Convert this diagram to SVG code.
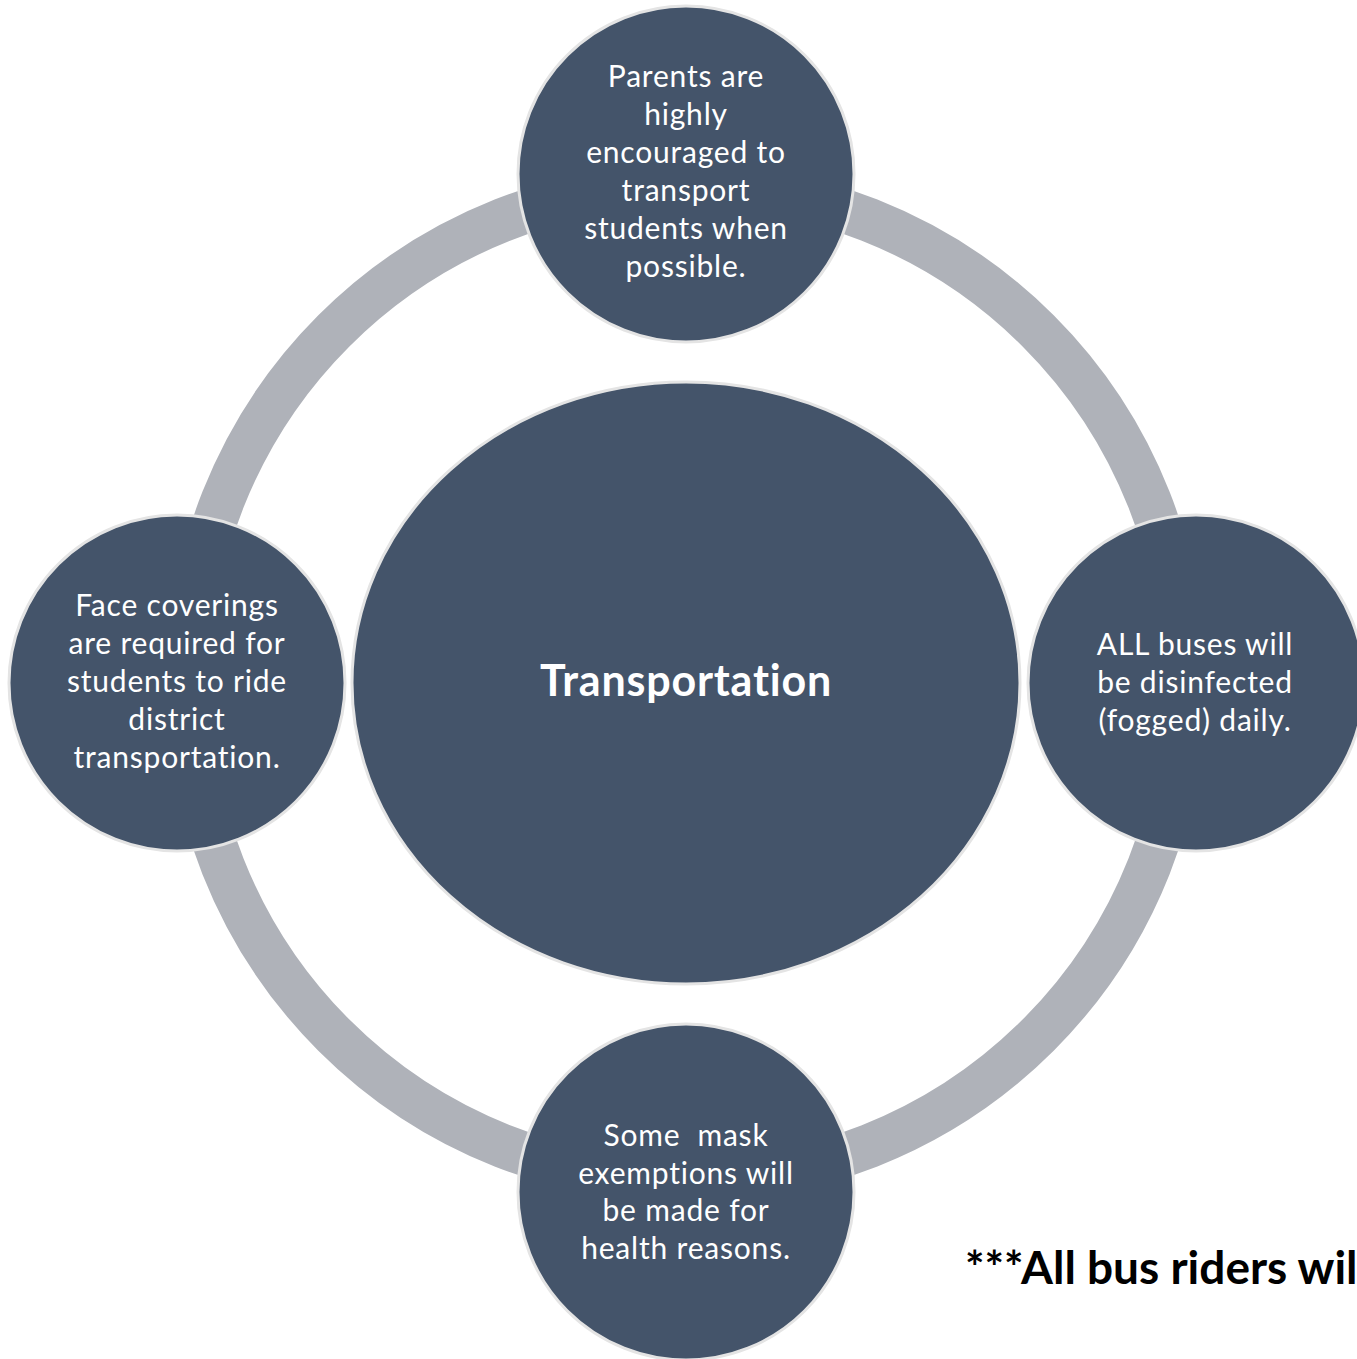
<svg xmlns="http://www.w3.org/2000/svg" width="1357" height="1359" viewBox="0 0 1357 1359">
<style>
.node{fill:#44546A;stroke:#E4E4E4;stroke-width:3}
.ring{fill:none;stroke:#AFB2B9;stroke-width:44}
.t{font-family:Lato,"Liberation Sans",sans-serif;font-size:30px;letter-spacing:0.8px;fill:#FFFFFF;text-anchor:middle}
.tb{font-family:Lato,"Liberation Sans",sans-serif;font-size:43px;letter-spacing:0.8px;font-weight:bold;fill:#FFFFFF;text-anchor:middle}
.note{font-family:Lato,"Liberation Sans",sans-serif;font-size:46px;font-weight:bold;fill:#000000}
</style>
<rect width="1357" height="1359" fill="#FFFFFF"/>
<g id="connectors">
<circle class="ring" cx="686" cy="683" r="498"/>
</g>
<g id="center">
<ellipse class="node" cx="686" cy="683" rx="334" ry="301"/>
<text class="tb" x="686" y="696">Transportation</text>
</g>
<g id="top">
<circle class="node" cx="686" cy="174" r="168"/>
<text class="t"><tspan x="686" y="87">Parents are</tspan><tspan x="686" y="125">highly</tspan><tspan x="686" y="163">encouraged to</tspan><tspan x="686" y="201">transport</tspan><tspan x="686" y="239">students when</tspan><tspan x="686" y="277">possible.</tspan></text>
</g>
<g id="right">
<circle class="node" cx="1196" cy="683" r="168"/>
<text class="t"><tspan x="1195" y="655">ALL buses will</tspan><tspan x="1195" y="693">be disinfected</tspan><tspan x="1195" y="731">(fogged) daily.</tspan></text>
</g>
<g id="bottom">
<circle class="node" cx="686" cy="1192" r="168"/>
<text class="t" xml:space="preserve"><tspan x="686" y="1146">Some  mask</tspan><tspan x="686" y="1184">exemptions will</tspan><tspan x="686" y="1221">be made for</tspan><tspan x="686" y="1259">health reasons.</tspan></text>
</g>
<g id="left">
<circle class="node" cx="177" cy="683" r="168"/>
<text class="t"><tspan x="177" y="616">Face coverings</tspan><tspan x="177" y="654">are required for</tspan><tspan x="177" y="692">students to ride</tspan><tspan x="177" y="730">district</tspan><tspan x="177" y="768">transportation.</tspan></text>
</g>
<g id="note">
<text class="note" x="965" y="1284">***All bus riders wil</text>
</g>
</svg>
